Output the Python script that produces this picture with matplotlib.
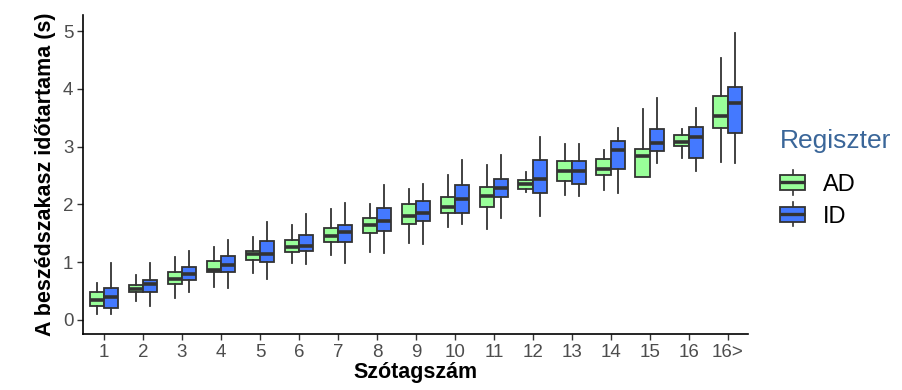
import matplotlib
matplotlib.use('Agg')
import matplotlib.pyplot as plt
from matplotlib.legend_handler import HandlerBase
from matplotlib.patches import Rectangle
from matplotlib.lines import Line2D

plt.rcParams['font.family'] = ['Liberation Sans', 'DejaVu Sans']

categories = ['1', '2', '3', '4', '5', '6', '7', '8', '9', '10', '11', '12', '13', '14', '15', '16', '16>']

# whislo, q1, median, q3, whishi
ad_lo  = [0.10, 0.33, 0.38, 0.57, 0.81, 0.99, 1.12, 1.18, 1.33, 1.61, 1.57, 2.21, 2.16, 2.25, 2.47, 2.80, 2.73]
ad_q1  = [0.24, 0.48, 0.62, 0.83, 1.04, 1.18, 1.35, 1.50, 1.66, 1.85, 1.96, 2.27, 2.40, 2.51, 2.47, 3.01, 3.32]
ad_med = [0.35, 0.54, 0.71, 0.87, 1.14, 1.26, 1.45, 1.64, 1.80, 1.96, 2.15, 2.35, 2.58, 2.61, 2.84, 3.08, 3.53]
ad_q3  = [0.48, 0.61, 0.83, 1.02, 1.19, 1.38, 1.59, 1.76, 2.01, 2.13, 2.30, 2.42, 2.75, 2.79, 2.96, 3.20, 3.88]
ad_hi  = [0.64, 0.78, 1.09, 1.26, 1.44, 1.65, 1.92, 2.01, 2.27, 2.51, 2.68, 2.56, 3.04, 2.94, 3.65, 3.30, 4.53]

id_lo  = [0.10, 0.24, 0.48, 0.55, 0.71, 0.97, 0.99, 1.16, 1.31, 1.66, 1.76, 1.80, 2.15, 2.20, 2.72, 2.58, 2.72]
id_q1  = [0.21, 0.48, 0.69, 0.83, 1.00, 1.19, 1.35, 1.54, 1.71, 1.85, 2.13, 2.20, 2.35, 2.61, 2.92, 2.80, 3.24]
id_med = [0.40, 0.62, 0.80, 0.95, 1.14, 1.28, 1.52, 1.71, 1.85, 2.09, 2.28, 2.44, 2.58, 2.94, 3.06, 3.17, 3.75]
id_q3  = [0.55, 0.69, 0.92, 1.11, 1.37, 1.47, 1.64, 1.94, 2.06, 2.34, 2.44, 2.77, 2.75, 3.10, 3.30, 3.34, 4.03]
id_hi  = [0.99, 0.99, 1.19, 1.38, 1.70, 1.83, 2.02, 2.34, 2.35, 2.77, 2.85, 3.17, 3.04, 3.32, 3.84, 3.67, 4.97]

ad_color = '#99FF99'
id_color = '#4479FF'
edge = '#333333'


def make_stats(lo, q1, med, q3, hi):
    return [dict(whislo=a, q1=b, med=c, q3=d, whishi=e, fliers=[])
            for a, b, c, d, e in zip(lo, q1, med, q3, hi)]


fig = plt.figure(figsize=(9.02, 3.9), dpi=100)
ax = fig.add_axes([0.092, 0.144, 0.737, 0.818])

pos = list(range(1, len(categories) + 1))
w = 0.37
for stats, color, off in [(make_stats(ad_lo, ad_q1, ad_med, ad_q3, ad_hi), ad_color, -w / 2),
                          (make_stats(id_lo, id_q1, id_med, id_q3, id_hi), id_color, w / 2)]:
    ax.bxp(stats, positions=[p + off for p in pos], widths=w, patch_artist=True,
           showcaps=False, showfliers=False, manage_ticks=False,
           boxprops=dict(facecolor=color, edgecolor=edge, linewidth=1.3),
           whiskerprops=dict(color=edge, linewidth=1.3),
           medianprops=dict(color=edge, linewidth=2.6, solid_capstyle='butt'))

ax.set_xlim(0.46, 17.51)
ax.set_ylim(-0.24, 5.28)
ax.set_xticks(pos)
ax.set_xticklabels(categories)
ax.set_yticks([0, 1, 2, 3, 4, 5])
for s in ['top', 'right']:
    ax.spines[s].set_visible(False)
for s in ['left', 'bottom']:
    ax.spines[s].set_linewidth(1.2)
    ax.spines[s].set_color('black')
ax.tick_params(labelsize=13.5, labelcolor='#4D4D4D', color='#333333', length=4, width=1, pad=3)
ax.set_xlabel('Szótagszám', fontsize=15.5, fontweight='bold', labelpad=1)
ax.set_ylabel('A beszédszakasz időtartama (s)', fontsize=15.5, fontweight='bold', labelpad=5)


class BoxHandler(HandlerBase):
    def create_artists(self, legend, orig_handle, xdescent, ydescent, width, height, fontsize, trans):
        color = orig_handle.get_facecolor()
        x0 = -xdescent
        bw = width
        y0 = -ydescent
        cx = x0 + bw / 2
        arts = [Line2D([cx, cx], [y0 - height * 0.2, y0 + height * 1.2], color=edge, lw=1.2),
                Rectangle((x0, y0 + height * 0.05), bw, height * 0.9, facecolor=color, edgecolor=edge, lw=1.3),
                Line2D([x0, x0 + bw], [y0 + height * 0.5] * 2, color=edge, lw=2.4, solid_capstyle='butt')]
        for a in arts:
            a.set_transform(trans)
        return arts


handles = [Rectangle((0, 0), 1, 1, facecolor=ad_color), Rectangle((0, 0), 1, 1, facecolor=id_color)]
leg = fig.legend(handles, ['AD', 'ID'], loc='upper left', bbox_to_anchor=(0.852, 0.70),
                 frameon=False, fontsize=17, title='Regiszter', title_fontsize=19,
                 handler_map={Rectangle: BoxHandler()}, handlelength=1.05, handleheight=0.75,
                 handletextpad=0.75, labelspacing=0.42, borderpad=0.5, borderaxespad=0)
leg.get_title().set_color('#3A6699')
leg._legend_box.align = 'left'
leg._legend_box.sep = 15

fig.savefig('out.png', dpi=100)
